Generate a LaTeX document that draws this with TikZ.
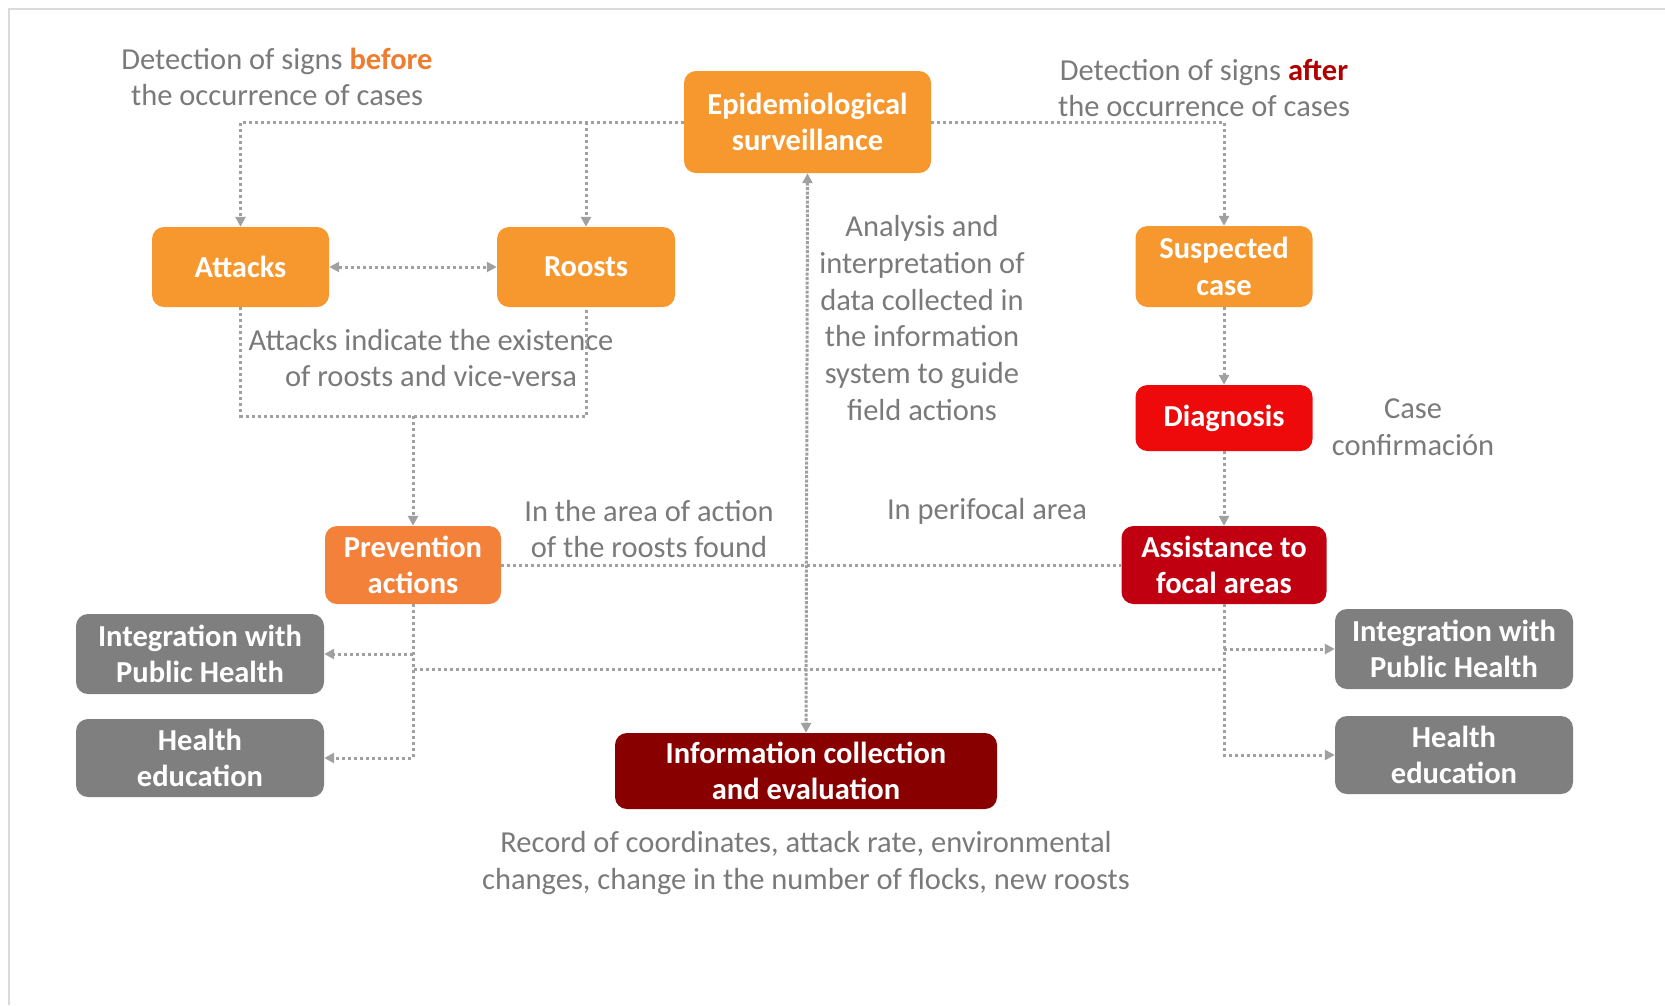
\documentclass[tikz,border=0pt]{standalone}
\usepackage{fontspec}
\setmainfont{Carlito}
\usetikzlibrary{arrows.meta}
\definecolor{orA}{HTML}{F7982F}
\definecolor{orB}{HTML}{F4813A}
\definecolor{redA}{HTML}{EE0A0A}
\definecolor{redB}{HTML}{C00010}
\definecolor{redC}{HTML}{880000}
\definecolor{grayBox}{HTML}{7F7F7F}
\definecolor{lineGray}{HTML}{A0A0A0}
\definecolor{txtGray}{HTML}{7A7A7A}
\definecolor{frameGray}{HTML}{DADADA}
\definecolor{befCol}{HTML}{ED7D31}
\definecolor{aftCol}{HTML}{B00000}
\tikzset{
  box/.style={rounded corners=12pt, text=white, align=center,
    font=\fontsize{30.5}{36.5}\selectfont\bfseries, inner sep=0pt},
  lbl/.style={text=txtGray, align=center, font=\fontsize{30.5}{36.7}\selectfont, inner sep=0pt},
  conn/.style={draw=lineGray, line width=3pt, dash pattern=on 3pt off 3pt},
  tip/.style={-{Triangle[length=10pt,width=10pt]}},
  tipb/.style={{Triangle[length=10pt,width=10pt]}-{Triangle[length=10pt,width=10pt]}},
}
\begin{document}
\begin{tikzpicture}[x=1pt,y=-1pt]
\useasboundingbox (0,0) rectangle (1665,1005);
\draw[frameGray, line width=1.2pt] (9,1005) -- (9,9) -- (1665,9);

% nodes
\node[box, fill=orA, minimum width=247pt, minimum height=102pt] (epi) at (807.5,122) {Epidemiological\\surveillance};
\node[box, fill=orA, minimum width=177pt, minimum height=80pt] (att) at (240.5,267) {Attacks};
\node[box, fill=orA, minimum width=178pt, minimum height=80pt] (roo) at (586,267) {Roosts};
\node[box, fill=orA, minimum width=177pt, minimum height=81pt] (sus) at (1224,266.5) {Suspected\\case};
\node[box, fill=redA, minimum width=177pt, minimum height=66pt] (dia) at (1224,418) {Diagnosis};
\node[box, fill=orB, minimum width=176pt, minimum height=78pt] (pre) at (413,565) {Prevention\\actions};
\node[box, fill=redB, minimum width=205pt, minimum height=78pt] (ass) at (1224,565) {Assistance to\\focal areas};
\node[box, fill=grayBox, minimum width=248pt, minimum height=80pt] (intL) at (200,654) {Integration with\\Public Health};
\node[box, fill=grayBox, minimum width=248pt, minimum height=78pt] (heaL) at (200,758) {Health\\education};
\node[box, fill=grayBox, minimum width=238pt, minimum height=80pt] (intR) at (1454,649) {Integration with\\Public Health};
\node[box, fill=grayBox, minimum width=238pt, minimum height=78pt] (heaR) at (1454,755) {Health\\education};
\node[box, fill=redC, minimum width=382pt, minimum height=76pt] (info) at (806,771) {Information collection\\and evaluation};

% labels
\node[lbl] (lbef) at (277,77) {Detection of signs \textcolor{befCol}{\bfseries before}\\the occurrence of cases};
\node[lbl] (laft) at (1204,88) {Detection of signs \textcolor{aftCol}{\bfseries after}\\the occurrence of cases};
\node[lbl] (lana) at (922,318) {Analysis and\\interpretation of\\data collected in\\the information\\system to guide\\field actions};
\node[lbl] (latt) at (431,358) {Attacks indicate the existence\\of roosts and vice-versa};
\node[lbl] (lcas) at (1413,427) {Case\\confirmación};
\node[lbl] (lroo) at (649,529) {In the area of action\\of the roosts found};
\node[lbl] (lper) at (987,511) {In perifocal area};
\node[lbl] (lrec) at (806,863) {Record of coordinates, attack rate, environmental\\changes, change in the number of flocks, new roosts};

% coordinates
\coordinate (c1) at (att.north |- epi.west);
\coordinate (c2) at (roo.north |- epi.west);
\coordinate (c3) at (sus.north |- epi.east);
\coordinate (c4) at ([yshift=-109pt]att.south);
\coordinate (c5) at (c4 -| roo.south);
\coordinate (c6) at (c4 -| pre.north);
\coordinate (c7) at (pre.south |- intL.east);
\coordinate (c8) at (pre.south |- heaL.east);
\coordinate (c9) at (ass.south |- intR.west);
\coordinate (c10) at (ass.south |- heaR.west);
\coordinate (c11) at (414,669);
\coordinate (c12) at (1224,669);

% connectors
\draw[conn, tip] (epi.west) -- (c1) -- (att.north);
\draw[conn, tip] (c2) -- (roo.north);
\draw[conn, tip] (epi.east) -- (c3) -- (sus.north);
\draw[conn, tipb] (att.east) -- (roo.west);
\draw[conn] (att.south) -- (c4) -- (c5) -- (roo.south);
\draw[conn, tip] (c6) -- (pre.north);
\draw[conn, tip] (sus.south) -- (dia.north);
\draw[conn, tip] (dia.south) -- (ass.north);
\draw[conn] (pre.east) -- (ass.west);
\draw[conn, tipb, dash pattern=on 3pt off 1.5pt] (epi.south) -- (info.north);
\draw[conn, tip] (pre.south) -- (c8) -- (heaL.east);
\draw[conn, tip] (c7) -- (intL.east);
\draw[conn] (c11) -- (c12);
\draw[conn, tip] (ass.south) -- (c10) -- (heaR.west);
\draw[conn, tip] (c9) -- (intR.west);
\end{tikzpicture}
\end{document}
